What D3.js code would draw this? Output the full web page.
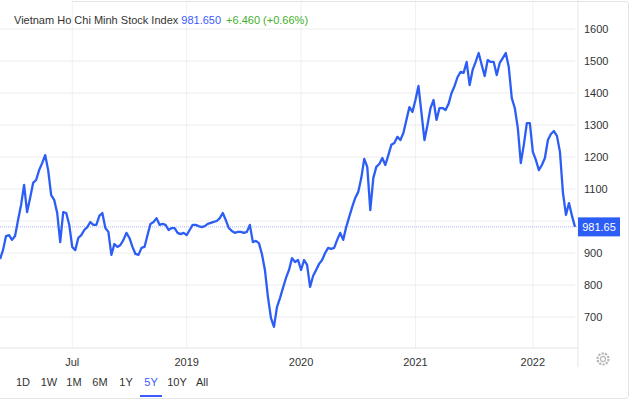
<!DOCTYPE html>
<html lang="en">
<head>
  <meta charset="UTF-8">
  <title>Vietnam Ho Chi Minh Stock Index</title>
  <script src="https://d3js.org/d3.v7.min.js"></script>
  <style>
    body {
      margin: 0;
      background-color: #fff;
      font-family: 'Liberation Sans', Arial, sans-serif;
    }
    text {
      font-family: 'Liberation Sans', Arial, sans-serif;
    }
  </style>
</head>
<body>
<div id="chart"></div>

<script>
  // closing values, sampled at regular intervals (5 years)
  const closes = [
    881, 909, 953, 956, 941, 953, 1003, 1050, 1113, 1028,
    1072, 1119, 1128, 1159, 1181, 1206, 1159, 1081, 1066, 1025,
    934, 1028, 1025, 988, 919, 909, 947, 956, 972, 981,
    997, 988, 988, 1016, 1025, 978, 966, 894, 928, 919,
    925, 941, 963, 947, 919, 897, 894, 916, 919, 956,
    991, 997, 1009, 988, 991, 988, 972, 978, 978, 963,
    959, 963, 956, 972, 988, 988, 984, 981, 984, 991,
    994, 997, 1000, 1009, 1025, 1003, 978, 969, 963, 966,
    966, 963, 966, 988, 934, 938, 931, 897, 847, 763,
    697, 669, 731, 759, 791, 822, 847, 884, 872, 878,
    847, 878, 863, 794, 828, 847, 866, 878, 900, 916,
    913, 916, 941, 963, 941, 981, 1013, 1044, 1072, 1091,
    1134, 1194, 1169, 1034, 1134, 1169, 1178, 1197, 1175, 1206,
    1238, 1244, 1263, 1253, 1275, 1316, 1356, 1341, 1378, 1422,
    1338, 1253, 1300, 1353, 1378, 1316, 1353, 1353, 1347, 1366,
    1400, 1422, 1450, 1466, 1463, 1497, 1425, 1472, 1497, 1525,
    1488, 1453, 1503, 1497, 1497, 1456, 1494, 1509, 1525, 1481,
    1384, 1353, 1291, 1181, 1238, 1306, 1306, 1216, 1191, 1159,
    1175, 1197, 1253, 1272, 1281, 1266, 1216, 1088, 1019, 1056,
    1016, 981.65
  ];

  // x axis ticks (sample index) and their labels
  const xTickIdx = [24, 62, 100, 138, 177];
  const xTickLabels = ["Jul", "2019", "2020", "2021", "2022"];

  const yTicks = [700, 800, 900, 1000, 1100, 1200, 1300, 1400, 1500, 1600];

  const ranges = ["1D", "1W", "1M", "6M", "1Y", "5Y", "10Y", "All"];
  const activeRange = "5Y";

  const last = 981.65;
  const change = "+6.460 (+0.66%)";

  const width = 630, height = 404;
  const plotRight = 575, axisX = 578, baseY = 348;
  const blue = "#2c5ef5";

  const svg = d3.select("#chart")
    .append("svg")
    .attr("width", width)
    .attr("height", height);

  // card outline
  svg.append("path")
    .attr("d", `M72,1.5 H626 Q628.5,1.5 628.5,4 V395 Q628.5,398.5 625,398.5 H0`)
    .attr("fill", "none")
    .attr("stroke", "#e3e3e3");

  const x = d3.scaleLinear()
    .domain([0, closes.length - 1])
    .range([0, plotRight]);

  const y = d3.scaleLinear()
    .domain([700, 1600])
    .range([317, 29]);

  // grid
  svg.append("g")
    .selectAll("line")
    .data(yTicks)
    .join("line")
    .attr("x1", 0)
    .attr("x2", plotRight)
    .attr("y1", d => y(d))
    .attr("y2", d => y(d))
    .attr("stroke", "#ececec");

  svg.append("g")
    .selectAll("line")
    .data(xTickIdx)
    .join("line")
    .attr("x1", d => x(d))
    .attr("x2", d => x(d))
    .attr("y1", 0)
    .attr("y2", baseY)
    .attr("stroke", "#f0f0f3");

  svg.append("line")
    .attr("x1", 0).attr("x2", axisX)
    .attr("y1", baseY).attr("y2", baseY)
    .attr("stroke", "#e6e6e6");

  svg.append("line")
    .attr("x1", axisX).attr("x2", axisX)
    .attr("y1", 0).attr("y2", 367)
    .attr("stroke", "#e6e6e6");

  // last price dotted line
  svg.append("line")
    .attr("x1", 0).attr("x2", axisX)
    .attr("y1", y(last)).attr("y2", y(last))
    .attr("stroke", "#a9b8fb")
    .attr("stroke-dasharray", "1,1");

  // series
  const line = d3.line()
    .x((d, i) => x(i))
    .y(d => y(d));

  svg.append("path")
    .datum(closes)
    .attr("d", line)
    .attr("fill", "none")
    .attr("stroke", blue)
    .attr("stroke-width", 2.3)
    .attr("stroke-linejoin", "round");

  // y axis labels (the one under the price box is hidden)
  svg.append("g")
    .selectAll("text")
    .data(yTicks.filter(d => Math.abs(y(d) - y(last)) > 14))
    .join("text")
    .attr("x", 584)
    .attr("y", d => y(d) + 4)
    .attr("font-size", 11)
    .attr("fill", "#333")
    .text(d => d);

  // price box
  svg.append("rect")
    .attr("x", axisX)
    .attr("y", y(last) - 9.5)
    .attr("width", 42)
    .attr("height", 19)
    .attr("fill", blue);

  svg.append("text")
    .attr("x", 599)
    .attr("y", y(last) + 4)
    .attr("text-anchor", "middle")
    .attr("font-size", 11)
    .attr("fill", "#fff")
    .text(last.toFixed(2));

  // x axis labels
  svg.append("g")
    .selectAll("text")
    .data(xTickIdx)
    .join("text")
    .attr("x", d => x(d))
    .attr("y", 366)
    .attr("text-anchor", "middle")
    .attr("font-size", 11)
    .attr("fill", "#333")
    .text((d, i) => xTickLabels[i]);

  // title
  const title = svg.append("text")
    .attr("x", 14)
    .attr("y", 24)
    .attr("font-size", 11);
  title.append("tspan").attr("fill", "#333").text("Vietnam Ho Chi Minh Stock Index ");
  title.append("tspan").attr("fill", "#3d5afe").text(last.toFixed(3));
  title.append("tspan").attr("fill", "#43b02a").attr("dx", 5).text(change);

  // gear icon
  const gear = svg.append("g").attr("transform", "translate(603,359)");
  gear.append("circle").attr("r", 5.5).attr("fill", "none")
    .attr("stroke", "#b5b5b5").attr("stroke-width", 2.2).attr("stroke-dasharray", "2.2,1.2");
  gear.append("circle").attr("r", 2.6).attr("fill", "none")
    .attr("stroke", "#b5b5b5").attr("stroke-width", 1.2);

  // range buttons
  const btnX = [23, 49, 74, 100, 126, 151, 177, 202];
  svg.append("g")
    .selectAll("text")
    .data(ranges)
    .join("text")
    .attr("x", (d, i) => btnX[i])
    .attr("y", 386)
    .attr("text-anchor", "middle")
    .attr("font-size", 11)
    .attr("fill", d => d === activeRange ? "#3d5afe" : "#333")
    .text(d => d);

  const ai = ranges.indexOf(activeRange);
  svg.append("rect")
    .attr("x", btnX[ai] - 11)
    .attr("y", 395)
    .attr("width", 22)
    .attr("height", 2)
    .attr("fill", "#3d5afe");
</script>
</body>
</html>
